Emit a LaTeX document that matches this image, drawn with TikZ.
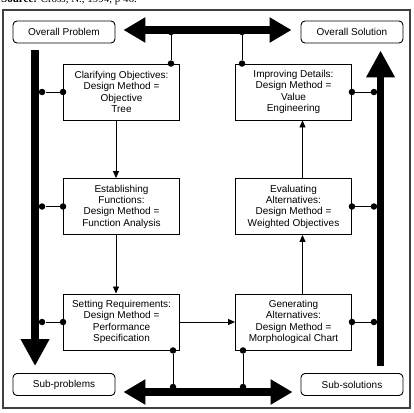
\documentclass[tikz,border=0pt]{standalone}
\usepackage{fontspec}
\setmainfont{Liberation Sans}
\newfontfamily\srcfont{Liberation Serif}
\usetikzlibrary{arrows.meta,calc}
\begin{document}
\begin{tikzpicture}[x=1pt,y=-1pt,
  box/.style={draw, line width=0.9pt, inner sep=0pt, minimum width=116pt, minimum height=56pt, align=center, font=\fontsize{10}{11.3}\selectfont},
  endbox/.style={draw, line width=0.9pt, rounded corners=4pt, inner sep=0pt, minimum width=102pt, minimum height=22pt, font=\fontsize{10}{11.3}\selectfont},
  bighor/.style={line width=8pt, {Triangle[length=22pt,width=24pt]}-{Triangle[length=22pt,width=24pt]}},
  bigver/.style={line width=7.5pt, -{Triangle[length=27pt,width=27pt]}},
  thinarr/.style={line width=0.8pt, -{Triangle[length=7pt,width=6pt]}},
  link/.style={line width=0.8pt},
  dot/.style={circle, fill, inner sep=0pt, minimum size=6.5pt}
]
\useasboundingbox (0,0) rectangle (414,412);
\begin{scope}
  \clip (0,0) rectangle (414,412);
  \node[anchor=base west, inner sep=0pt, font=\srcfont\fontsize{11}{13}\selectfont] (src) at (1,3) {\textbf{Source:} Cross, N., 1994, p 46.};
\end{scope}
\draw[black!75, line width=1.3pt] (3,10) rectangle (410,408);

% corner boxes
\node[endbox] (op) at (64,32) {Overall Problem};
\node[endbox] (os) at (352,32) {Overall Solution};
\node[endbox] (sp) at (64,384.5) {Sub-problems};
\node[endbox] (ss) at (352,384.5) {Sub-solutions};

% method boxes
\node[box] (clar) at (121.5,92) {Clarifying Objectives:\\Design Method =\\Objective\\Tree};
\node[box] (est) at (121.5,206.5) {Establishing\\Functions:\\Design Method =\\Function Analysis};
\node[box] (set) at (121.5,322) {Setting Requirements:\\Design Method =\\Performance\\Specification};
\node[box] (imp) at (293.5,92) {Improving Details:\\Design Method =\\Value\\Engineering};
\node[box] (eva) at (293.5,206.5) {Evaluating\\Alternatives:\\Design Method =\\Weighted Objectives};
\node[box] (gen) at (293.5,322) {Generating\\Alternatives:\\Design Method =\\Morphological Chart};

% thick arrows
\draw[bighor] ($(op.east)+(8,-2)$) -- ($(os.west)+(-9,-2)$);
\draw[bighor] ($(sp.east)+(8,7.5)$) -- ($(ss.west)+(-8,7.5)$);
\draw[bigver] ($(op.south west)+(22.5,7)$) -- ($(sp.north west)+(22.5,-7)$);
\draw[bigver] ($(ss.north west)+(80,-7)$) -- ($(os.south west)+(80,7)$);

% thin flow arrows
\draw[thinarr] ([xshift=-5.5pt]clar.south) -- ([xshift=-5.5pt]est.north);
\draw[thinarr] ([xshift=-5.5pt]est.south) -- ([xshift=-5.5pt]set.north);
\draw[thinarr] (set.east) -- (gen.west);
\draw[thinarr] ([xshift=9pt]gen.north) -- ([xshift=9pt]eva.south);
\draw[thinarr] ([xshift=9pt]eva.north) -- ([xshift=9pt]imp.south);

% top links
\coordinate (xa) at (171,0);
\coordinate (xb) at (242,0);
\node[dot] (ta) at (171,32) {};
\node[dot] (ca) at (clar.north -| xa) {};
\draw[link] (ta) -- (ca);
\node[dot] (tb) at (242,32) {};
\node[dot] (cb) at (imp.north -| xb) {};
\draw[link] (tb) -- (cb);

% bottom links
\coordinate (xc) at (173,0);
\coordinate (xd) at (243,0);
\node[dot] (sa) at (set.south -| xc) {};
\node[dot] (ba) at (173,387) {};
\draw[link] (sa) -- (ba);
\node[dot] (ga) at (gen.south -| xd) {};
\node[dot] (bb) at (243,387) {};
\draw[link] (ga) -- (bb);

% left links
\foreach \b in {clar,est,set}{
  \node[dot] (\b L) at (\b.west) {};
  \node[dot] (\b S) at ($(\b.west)+(-21,0)$) {};
  \draw[link] (\b L) -- (\b S);
}
% right links
\foreach \b in {imp,eva,gen}{
  \node[dot] (\b R) at (\b.east) {};
  \node[dot] (\b S) at ($(\b.east)+(22,0)$) {};
  \draw[link] (\b R) -- (\b S);
}
\end{tikzpicture}
\end{document}
